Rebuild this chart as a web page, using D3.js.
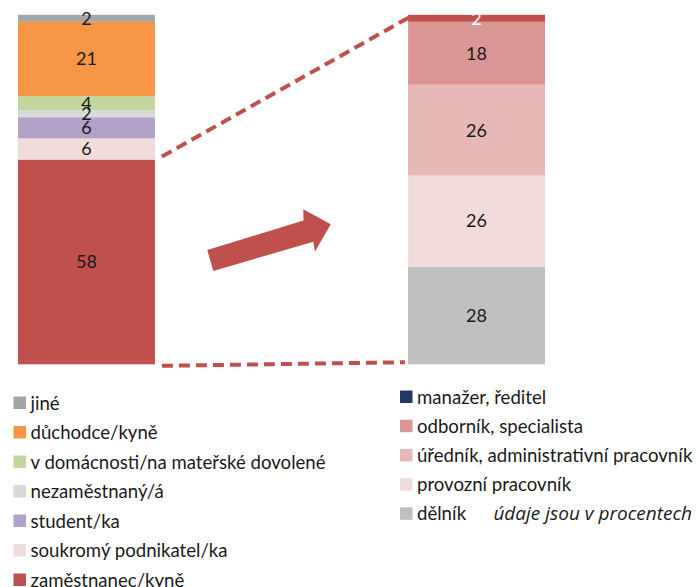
<!DOCTYPE html>
<html>
<head>
<meta charset="utf-8">
<script src="https://cdn.jsdelivr.net/npm/d3@7"></script>
<style>
  body { margin: 0; background: #fff; }
  text { font-family: Lato, "Noto Sans", sans-serif; }
</style>
</head>
<body>
<div class="chart"></div>
<script>
// left bar: status (bottom to top)
const statusCats = ["zaměstnanec/kyně", "soukromý podnikatel/ka", "student/ka", "nezaměstnaný/á",
  "v domácnosti/na mateřské dovolené", "důchodce/kyně", "jiné"];
const statusVals = [58, 6, 6, 2, 4, 21, 2];
const statusColors = ["#C0504D", "#F2DCDB", "#B3A2C7", "#D9D9D9", "#C3D69B", "#F79646", "#A5A5A5"];

// right bar: position of employees (bottom to top)
const jobCats = ["dělník", "provozní pracovník", "úředník, administrativní pracovník",
  "odborník, specialista", "manažer, ředitel"];
const jobVals = [28, 26, 26, 18, 2];
const jobColors = ["#BFBFBF", "#F2DCDB", "#E6B9B8", "#D99694", "#C0504D"];
const jobLegendColors = ["#BFBFBF", "#F2DCDB", "#E6B9B8", "#D99694", "#1F3864"];

const note = "údaje jsou v procentech";

const W = 697, H = 587;
const svg = d3.select(".chart").append("svg").attr("width", W).attr("height", H);

const x = d3.scaleBand().domain(["status", "job"]).range([18, 545]).paddingInner(0.649);
const y = d3.scaleLinear().domain([0, 1]).range([364.3, 14.8]);

function stackBar(key, cats, vals, colors, labelColors) {
  const row = {};
  cats.forEach((c, i) => row[c] = vals[i]);
  const series = d3.stack().keys(cats).offset(d3.stackOffsetExpand)([row]);
  const g = svg.append("g");
  g.selectAll("rect")
    .data(series)
    .join("rect")
    .attr("x", x(key))
    .attr("width", x.bandwidth())
    .attr("y", d => y(d[0][1]))
    .attr("height", d => y(d[0][0]) - y(d[0][1]))
    .attr("fill", (d, i) => colors[i]);
  g.selectAll("text")
    .data(series)
    .join("text")
    .attr("x", x(key) + x.bandwidth() / 2)
    .attr("y", d => (y(d[0][0]) + y(d[0][1])) / 2)
    .attr("dy", "0.36em")
    .attr("text-anchor", "middle")
    .style("font-size", "18px")
    .style("fill", (d, i) => labelColors[i])
    .text((d, i) => vals[i]);
  return series;
}

const sStatus = stackBar("status", statusCats, statusVals, statusColors,
  statusCats.map(() => "#1a1a1a"));
const sJob = stackBar("job", jobCats, jobVals, jobColors,
  jobCats.map((c, i) => i === jobCats.length - 1 ? "#ffffff" : "#1a1a1a"));

// dashed connector lines from the "zaměstnanec" segment to the right bar
const leftEdge = x("status") + x.bandwidth() + 7;
const topEmp = y(sStatus[0][0][1]);
const dash = svg.append("g")
  .attr("stroke", "#C0504D")
  .attr("stroke-width", 4)
  .attr("stroke-dasharray", "11,6")
  .attr("fill", "none");
dash.append("line")
  .attr("x1", leftEdge).attr("y1", topEmp - 3)
  .attr("x2", x("job") + 2).attr("y2", y(1) + 2);
dash.append("line")
  .attr("x1", leftEdge).attr("y1", y(0) + 1.5)
  .attr("x2", x("job") - 3).attr("y2", y(0) - 2);

// arrow
const arrowPts = [[207.3, 250], [303.5, 220.5], [303.3, 209.3], [330.7, 224.3],
  [315, 251.7], [313.3, 241.7], [213.3, 271]];
svg.append("path")
  .attr("d", d3.line()(arrowPts) + "Z")
  .attr("fill", "#C0504D");

// legends
function legend(cats, colors, lx, ly0, step) {
  const items = cats.slice().reverse();
  const cols = colors.slice().reverse();
  const g = svg.append("g");
  const it = g.selectAll("g").data(items).join("g")
    .attr("transform", (d, i) => `translate(${lx},${ly0 + i * step})`);
  it.append("rect")
    .attr("x", 0).attr("y", -6.5).attr("width", 12.5).attr("height", 12.5)
    .attr("fill", (d, i) => cols[i]);
  it.append("text")
    .attr("x", 17).attr("dy", "0.35em")
    .style("font-size", "18.6px")
    .style("fill", "#1a1a1a")
    .text(d => d);
}
legend(statusCats, statusColors, 13.5, 403, 29.5);
legend(jobCats, jobLegendColors, 400, 397, 29.2);

svg.append("text")
  .attr("x", 692).attr("y", 513)
  .attr("dy", "0.35em")
  .attr("text-anchor", "end")
  .style("font-family", "'Open Sans', sans-serif")
  .style("font-size", "19px")
  .style("font-style", "italic")
  .style("fill", "#1a1a1a")
  .text(note);
</script>
</body>
</html>
